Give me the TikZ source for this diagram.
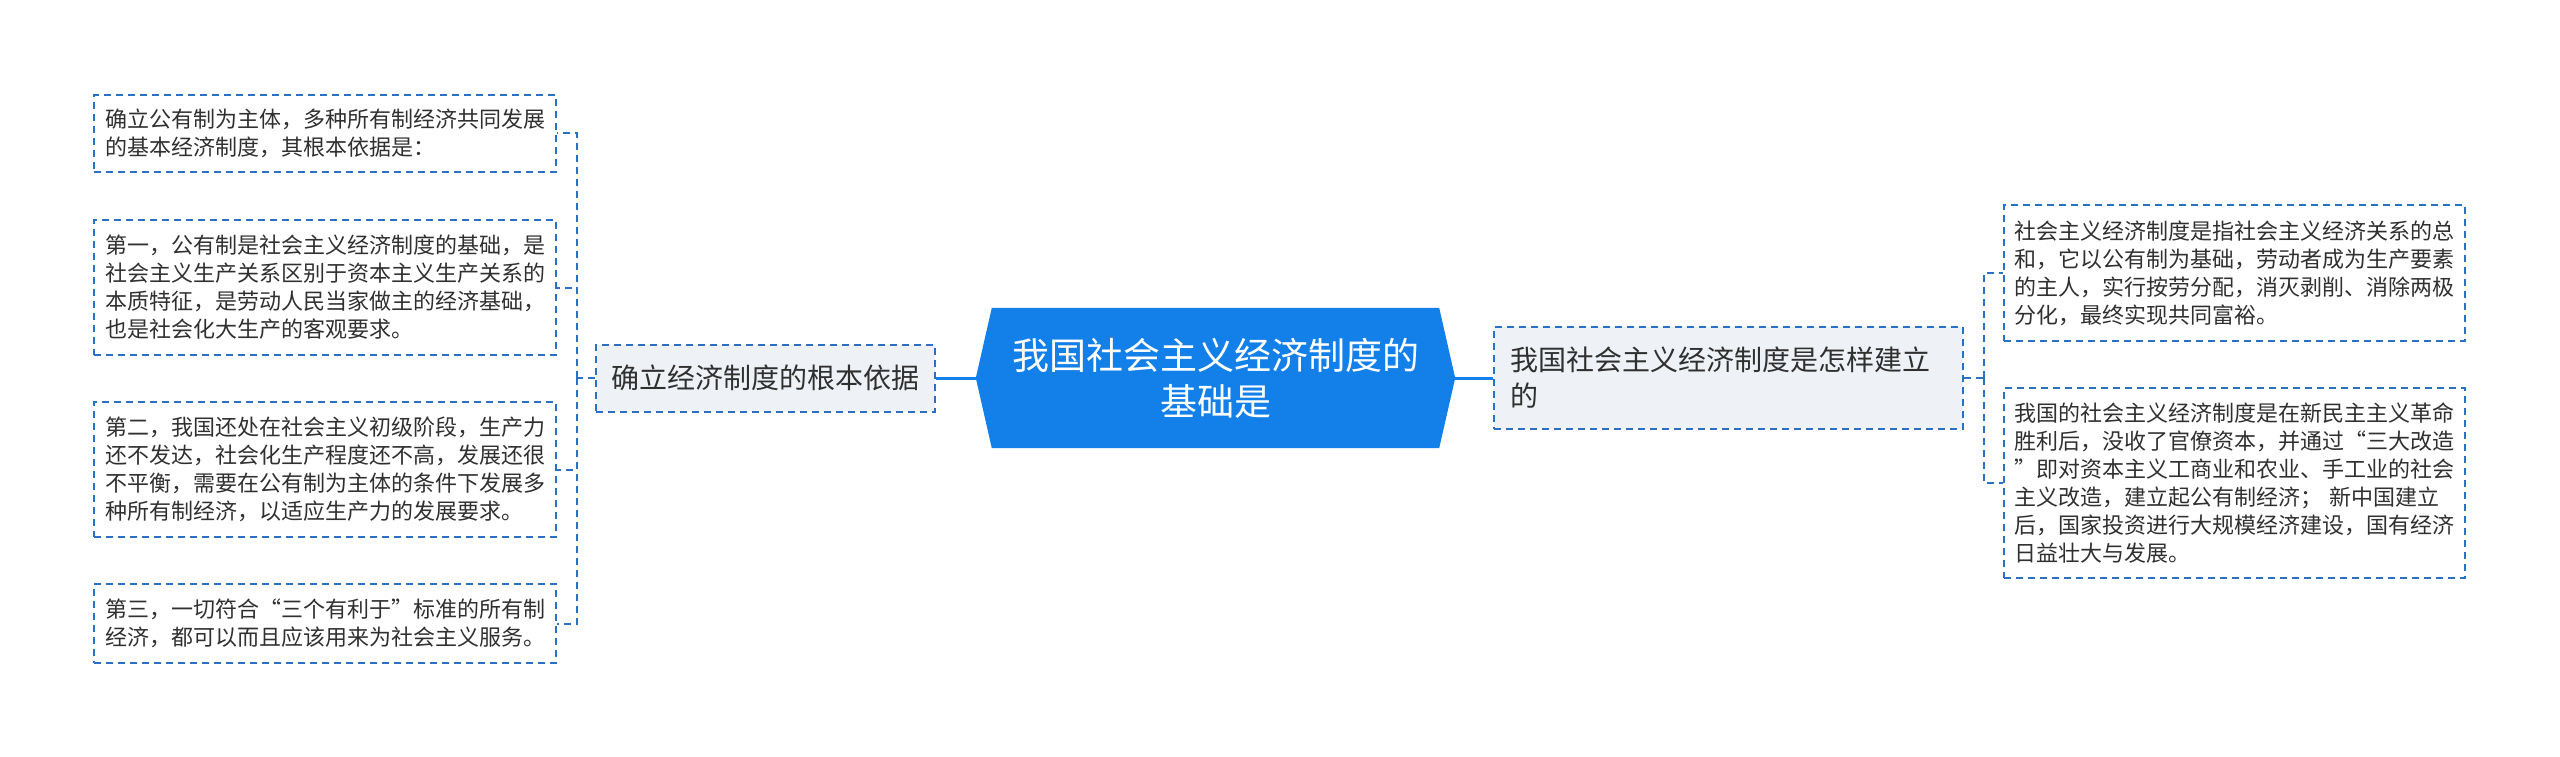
\documentclass[tikz,border=0pt]{standalone}
\usepackage{fontspec}
\setmainfont{Noto Sans CJK SC}
\usetikzlibrary{calc,backgrounds}
\XeTeXlinebreaklocale "zh"
\definecolor{rootblue}{HTML}{137FE8}
\definecolor{linkblue}{HTML}{2A70C4}
\definecolor{subfill}{HTML}{EEF1F5}
\definecolor{textgray}{HTML}{303030}
\tikzset{
  leafbox/.style={draw=linkblue, line width=2pt, dash pattern=on 7pt off 5pt,
    fill=white, text=textgray, align=left, text width=440pt, inner xsep=11pt,
    font=\fontsize{22}{28}\selectfont},
  subbox/.style={draw=linkblue, line width=2pt, dash pattern=on 7pt off 5pt,
    fill=subfill, text=textgray, align=left, inner xsep=15.5pt,
    font=\fontsize{28}{36}\selectfont},
  link/.style={draw=linkblue, line width=2pt, dash pattern=on 7pt off 5pt},
  rootlink/.style={draw=rootblue, line width=3pt},
}

\begin{document}
\begin{tikzpicture}[x=1pt,y=-1pt]
\useasboundingbox (0,0) rectangle (2560,757);
% centre topic
\node[text=white, align=center, minimum width=479pt, minimum height=140pt,
  font=\fontsize{37}{46}\selectfont] (root) at (1215.5,378) {我国社会主义经济制度的\\基础是};
\begin{scope}[on background layer]
\fill[rootblue] ($(root.north west)+(16,0)$) -- ($(root.north east)+(-16,0)$) -- (root.east)
  -- ($(root.south east)+(-16,0)$) -- ($(root.south west)+(16,0)$) -- (root.west) -- cycle;
\end{scope}

% left branch
\node[subbox, minimum width=339pt, minimum height=67pt] (basis) at (765.5,378) {确立经济制度的根本依据};
\node[leafbox, minimum height=77pt] (l1) at (325,133.5) {确立公有制为主体，多种所有制经济共同发展\\的基本经济制度，其根本依据是：};
\node[leafbox, minimum height=135pt] (l2) at (325,287.5) {第一，公有制是社会主义经济制度的基础，是\\社会主义生产关系区别于资本主义生产关系的\\本质特征，是劳动人民当家做主的经济基础，\\也是社会化大生产的客观要求。};
\node[leafbox, minimum height=135pt] (l3) at (325,469.5) {第二，我国还处在社会主义初级阶段，生产力\\还不发达，社会化生产程度还不高，发展还很\\不平衡，需要在公有制为主体的条件下发展多\\种所有制经济，以适应生产力的发展要求。};
\node[leafbox, minimum height=79pt] (l4) at (325,623.5) {第三，一切符合“三个有利于”标准的所有制\\经济，都可以而且应该用来为社会主义服务。};
\coordinate (lbus) at (577,378);
\draw[rootlink] (root.west) -- (basis.east);
\draw[link] (basis.west) -- (lbus);
\foreach \n in {l1,l2,l3,l4} \draw[link] (lbus) |- (\n.east);

% right branch
\node[subbox, text width=437pt, inner xsep=16pt, minimum height=102pt] (how) at (1728.5,378) {我国社会主义经济制度是怎样建立\\的};
\node[leafbox, inner xsep=10.5pt, minimum height=136pt] (r1) at (2234.5,273) {社会主义经济制度是指社会主义经济关系的总\\和，它以公有制为基础，劳动者成为生产要素\\的主人，实行按劳分配，消灭剥削、消除两极\\分化，最终实现共同富裕。};
\node[leafbox, inner xsep=10.5pt, minimum height=190pt] (r2) at (2234.5,483) {我国的社会主义经济制度是在新民主主义革命\\胜利后，没收了官僚资本，并通过“三大改造\\”即对资本主义工商业和农业、手工业的社会\\主义改造，建立起公有制经济； 新中国建立\\后，国家投资进行大规模经济建设，国有经济\\日益壮大与发展。};
\coordinate (rbus) at (1984,378);
\draw[rootlink] (root.east) -- (how.west);
\draw[link] (how.east) -- (rbus);
\foreach \n in {r1,r2} \draw[link] (rbus) |- (\n.west);
\end{tikzpicture}
\end{document}
